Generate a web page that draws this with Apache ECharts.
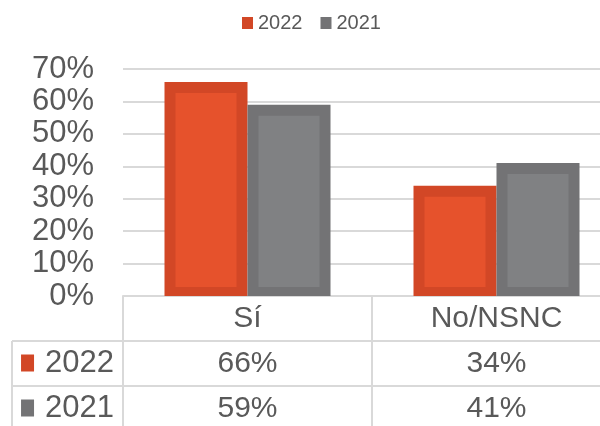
<!DOCTYPE html>
<html>
<head>
<meta charset="utf-8">
<script src="https://cdn.jsdelivr.net/npm/echarts@6/dist/echarts.min.js"></script>
<style>
html, body { margin: 0; padding: 0; background: #fff; }
.box { width: 600px; height: 426px; }
</style>
</head>
<body>
<div class="box"></div>
<script>
// datos
var categories = ['Sí', 'No/NSNC'];
var seriesNames = ['2022', '2021'];
var values2022 = [66, 34];
var values2021 = [59, 41];
var yMin = 0, yMax = 70, yStep = 10;

var textColor = '#595959';
var lineColor = '#D9D9D9';
var edgeColors = ['#D24726', '#737375'];
var fillColors = ['#E6522C', '#808183'];
var fontFam = 'Liberation Sans, Arial, sans-serif';

var chart = echarts.init(document.querySelector('.box'));

// barra con borde interior (estilo Excel)
function barItem(params, api) {
  var slot = params.seriesIndex;
  var topPt = api.coord([api.value(0), api.value(1)]);
  var basePt = api.coord([api.value(0), 0]);
  var band = api.size([1, 0])[0];
  var w = band / 3;
  var x = topPt[0] - w + slot * w;
  var h = basePt[1] - topPt[1];
  return {
    type: 'group',
    children: [
      { type: 'rect', shape: { x: x, y: topPt[1], width: w, height: h }, style: { fill: edgeColors[slot] } },
      { type: 'rect', shape: { x: x + 11, y: topPt[1] + 11, width: w - 22, height: h - 20 }, style: { fill: fillColors[slot] } }
    ]
  };
}

function pairs(vals) {
  return vals.map(function (v, i) { return [i, v]; });
}

// fila de la tabla de datos como eje x extra
function tableAxis(vals, off) {
  return {
    type: 'category',
    data: categories,
    position: 'bottom',
    offset: off,
    axisLine: { show: true, lineStyle: { color: lineColor, width: 2 } },
    axisTick: { show: true, length: 45, interval: 0, alignWithLabel: false, lineStyle: { color: lineColor, width: 2 } },
    axisLabel: {
      interval: 0,
      margin: 23,
      verticalAlign: 'middle',
      fontSize: 30,
      fontFamily: fontFam,
      color: textColor,
      formatter: function (v, i) {
        return vals ? vals[i] + '%' : v;
      }
    },
    splitLine: { show: false }
  };
}

var rowsY = [363, 408];
var rowGraphics = [
  { type: 'line', shape: { x1: 12, y1: 341, x2: 123, y2: 341 }, style: { stroke: lineColor, lineWidth: 2 } },
  { type: 'line', shape: { x1: 12, y1: 386, x2: 123, y2: 386 }, style: { stroke: lineColor, lineWidth: 2 } },
  { type: 'line', shape: { x1: 12, y1: 341, x2: 12, y2: 430 }, style: { stroke: lineColor, lineWidth: 2 } }
];
seriesNames.forEach(function (name, i) {
  rowGraphics.push({
    type: 'text',
    x: 114,
    y: rowsY[i],
    style: {
      text: '{sq|}{gp|}' + name,
      align: 'right',
      verticalAlign: 'middle',
      fontSize: 31,
      fontFamily: fontFam,
      fill: textColor,
      rich: {
        sq: { width: 13, height: 17, backgroundColor: edgeColors[i] },
        gp: { width: 11 }
      }
    }
  });
});

var option = {
  animation: false,
  textStyle: { fontFamily: fontFam },
  legend: {
    data: seriesNames,
    left: 237,
    top: 8,
    icon: 'rect',
    itemWidth: 11,
    itemHeight: 12,
    itemGap: 18,
    textStyle: { color: textColor, fontSize: 20, fontFamily: fontFam }
  },
  grid: {
    left: 123,
    top: 69,
    width: 498,
    height: 227,
    containLabel: false,
    outerBoundsMode: 'none'
  },
  xAxis: [
    tableAxis(null, 0),
    tableAxis(values2022, 45),
    tableAxis(values2021, 90)
  ],
  yAxis: {
    type: 'value',
    min: yMin,
    max: yMax,
    interval: yStep,
    axisLine: { show: false },
    axisTick: { show: false },
    axisLabel: {
      formatter: '{value}%',
      fontSize: 31,
      fontFamily: fontFam,
      color: textColor,
      margin: 29
    },
    splitLine: { lineStyle: { color: lineColor, width: 2 } }
  },
  series: [
    {
      name: seriesNames[0],
      type: 'custom',
      renderItem: barItem,
      itemStyle: { color: edgeColors[0] },
      encode: { x: 0, y: 1 },
      data: pairs(values2022)
    },
    {
      name: seriesNames[1],
      type: 'custom',
      renderItem: barItem,
      itemStyle: { color: edgeColors[1] },
      encode: { x: 0, y: 1 },
      data: pairs(values2021)
    }
  ],
  graphic: rowGraphics
};
chart.setOption(option);
window.addEventListener('resize', function () {
  chart.resize();
});
</script>
</body>
</html>
